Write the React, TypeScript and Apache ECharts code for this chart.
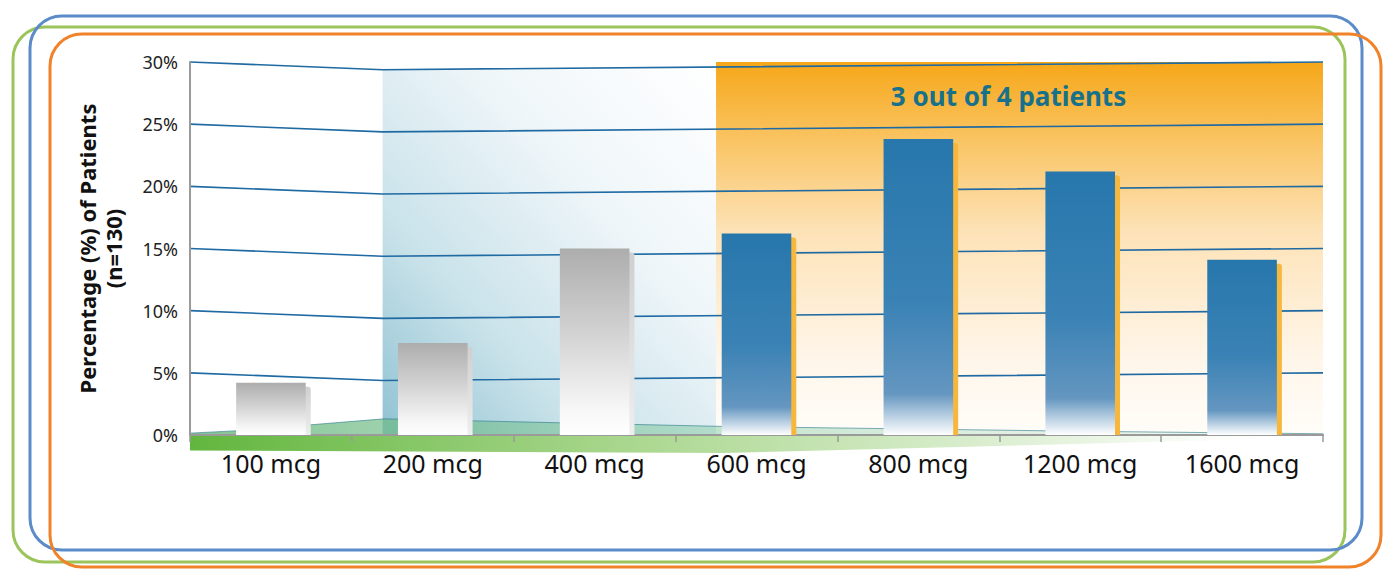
import React, { useEffect, useRef } from "react";
import * as echarts from "echarts";

const categories = ["100 mcg", "200 mcg", "400 mcg", "600 mcg", "800 mcg", "1200 mcg", "1600 mcg"];
const values = [4.2, 7.4, 15.0, 16.2, 23.8, 21.2, 14.1];
const inResponderGroup = [false, false, false, true, true, true, true];
const yTicks = { min: 0, max: 30, interval: 5 };
const gridValues = [5, 10, 15, 20, 25, 30];
const axisTitle = "Percentage (%) of Patients\n(n=130)";
const calloutText = "3 out of 4 patients";

const FONT = "'Noto Sans', 'Open Sans', sans-serif";

export default function App() {
  const ref = useRef<HTMLDivElement>(null);

  useEffect(() => {
    const chart = echarts.init(ref.current!, null, { renderer: "svg" });
    const LG = echarts.graphic.LinearGradient;

    const option: any = {
      animation: false,
      backgroundColor: "#ffffff",
      grid: { left: 190, right: 72, top: 62, bottom: 149, containLabel: false },
      xAxis: [
        {
          type: "category",
          data: categories,
          z: 4,
          axisLine: { lineStyle: { color: "#9a9a9a", width: 2 } },
          axisTick: { show: true, length: 7, lineStyle: { color: "#9a9a9a", width: 1.5 } },
          axisLabel: { fontSize: 25, color: "#111", fontFamily: FONT, margin: 15 },
        },
        { type: "value", min: 0, max: 7, show: false },
      ],
      yAxis: {
        type: "value",
        min: yTicks.min,
        max: yTicks.max,
        interval: yTicks.interval,
        z: 4,
        name: axisTitle,
        nameLocation: "middle",
        nameGap: 64,
        nameTextStyle: { fontSize: 22, fontWeight: "bold", color: "#111", fontFamily: FONT, lineHeight: 26 },
        axisLine: { show: true, lineStyle: { color: "#9a9a9a", width: 2 } },
        axisTick: { show: false },
        axisLabel: { formatter: "{value}%", fontSize: 18, color: "#222", fontFamily: FONT, margin: 12 },
        splitLine: { show: false },
      },
      series: [
        {
          type: "custom",
          xAxisIndex: 0,
          yAxisIndex: 0,
          z: 6,
          data: values.map((v, i) => [i, v]),
          encode: { x: 0, y: 1 },
          renderItem: (params: any, api: any) => {
            const idx = api.value(0);
            const val = api.value(1);
            const top = api.coord([idx, val]);
            const base = api.coord([idx, 0]);
            const band = api.size([1, 0])[0];
            const w = band * 0.43;
            const x = top[0] - w / 2;
            const h = base[1] - top[1];
            const hi = inResponderGroup[idx];
            const front = hi
              ? new LG(0, 0, 0, 1, [
                  { offset: 0, color: "#2777ac" },
                  { offset: 0.55, color: "#3a82b5" },
                  { offset: 0.86, color: "#6496c0" },
                  { offset: 1, color: "#ffffff" },
                ])
              : new LG(0, 0, 0, 1, [
                  { offset: 0, color: "#adadad" },
                  { offset: 0.45, color: "#d2d2d2" },
                  { offset: 0.85, color: "#f6f6f6" },
                  { offset: 1, color: "#ffffff" },
                ]);
            const side = hi
              ? "#f6b73c"
              : new LG(0, 0, 0, 1, [
                  { offset: 0, color: "#cfcfcf" },
                  { offset: 1, color: "#eeeeee" },
                ]);
            return {
              type: "group",
              children: [
                {
                  type: "rect",
                  shape: { x: x + w - 1, y: top[1] + 4, width: 6, height: Math.max(h - 4, 0), r: [0, 3, 0, 0] },
                  style: { fill: side },
                },
                {
                  type: "rect",
                  shape: { x, y: top[1], width: w, height: h },
                  style: { fill: front },
                },
              ],
            };
          },
        },
        {
          type: "line",
          xAxisIndex: 1,
          yAxisIndex: 0,
          z: 0,
          data: [[0, 0]],
          symbol: "none",
          lineStyle: { opacity: 0 },
          silent: true,
        },
      ],
    };
    chart.setOption(option);

    const P = (x: number, y: number) => chart.convertToPixel({ seriesIndex: 1 }, [x, y]) as number[];

    const dipX = 1.19;
    const dip = 0.62;
    const gridLines = gridValues.map((v) => ({
      type: "polyline",
      z: 3,
      silent: true,
      shape: { points: [P(0, v), P(dipX, v - dip), P(7, v)] },
      style: { stroke: "#1f6aa3", lineWidth: 1.6, fill: "none" },
    }));

    const blueTL = P(dipX, 30 - dip);
    const blueBR = P(3.25, 0);
    const orangeTL = P(3.25, 30 - dip * 0.55);
    const orangeTop = P(3.25, 30);
    const orangeBR = P(7, 0);

    const floorBelow = [P(0, 0), P(7, 0), P(7, -0.2), P(3.3, -1.45), P(0, -1.25)];
    const floorTop = [P(0, 0), P(0, 0.15), P(0.3, 0.35), P(1.2, 1.3), P(3.25, 0.7), P(5.5, 0.3), P(7, 0.1), P(7, 0)];

    chart.setOption({
      graphic: [
        {
          type: "rect",
          z: 0,
          silent: true,
          shape: { x: blueTL[0], y: blueTL[1], width: blueBR[0] - blueTL[0], height: blueBR[1] - blueTL[1] },
          style: {
            fill: new LG(0, 1, 1, 0, [
              { offset: 0, color: "#8fc2d2" },
              { offset: 0.3, color: "#c9e2ea" },
              { offset: 0.65, color: "#eff6f9" },
              { offset: 1, color: "#ffffff" },
            ]),
          },
        },
        {
          type: "rect",
          z: 0,
          silent: true,
          shape: {
            x: orangeTL[0],
            y: Math.min(orangeTL[1], orangeTop[1]),
            width: orangeBR[0] - orangeTL[0],
            height: orangeBR[1] - Math.min(orangeTL[1], orangeTop[1]),
          },
          style: {
            fill: new LG(0, 0, 0, 1, [
              { offset: 0, color: "#f6a719" },
              { offset: 0.18, color: "#f9c058" },
              { offset: 0.45, color: "#fde2b6" },
              { offset: 0.8, color: "#fff6ea" },
              { offset: 1, color: "#fffdf9" },
            ]),
          },
        },
        {
          type: "text",
          z: 5,
          silent: true,
          x: (orangeTL[0] + orangeBR[0]) / 2 - 11,
          y: P(0, 27.3)[1],
          style: {
            text: calloutText,
            fontSize: 26,
            fontWeight: "bold",
            fill: "#17718a",
            fontFamily: FONT,
            align: "center",
            verticalAlign: "middle",
          },
        },
        ...gridLines,
        {
          type: "polygon",
          z: 0,
          silent: true,
          shape: { points: floorBelow },
          style: {
            fill: new LG(0, 0, 1, 0, [
              { offset: 0, color: "#62b63e" },
              { offset: 0.4, color: "#acd891" },
              { offset: 0.8, color: "#eaf5e4" },
              { offset: 1, color: "rgba(255,255,255,0)" },
            ]),
          },
        },
        {
          type: "polygon",
          z: 1,
          silent: true,
          shape: { points: floorTop },
          style: {
            fill: new LG(0, 0, 1, 0, [
              { offset: 0, color: "rgba(90,175,110,0.75)" },
              { offset: 0.45, color: "rgba(130,200,160,0.5)" },
              { offset: 1, color: "rgba(200,230,210,0.2)" },
            ]),
            stroke: "rgba(40,120,140,0.6)",
            lineWidth: 1,
          },
        },
        {
          type: "rect",
          z: 10,
          silent: true,
          shape: { x: 13, y: 27, width: 1332, height: 535, r: 32 },
          style: { fill: "none", stroke: "#9bc45a", lineWidth: 3 },
        },
        {
          type: "rect",
          z: 10,
          silent: true,
          shape: { x: 30, y: 16, width: 1332, height: 534, r: 32 },
          style: { fill: "none", stroke: "#5b8bc9", lineWidth: 3 },
        },
        {
          type: "rect",
          z: 10,
          silent: true,
          shape: { x: 50, y: 34, width: 1331, height: 533, r: 32 },
          style: { fill: "none", stroke: "#f0832a", lineWidth: 3 },
        },
      ],
    });

    return () => chart.dispose();
  }, []);

  return (
    <div
      ref={ref}
      style={{ position: "fixed", left: 0, top: 0, width: 1395, height: 584, background: "#fff" }}
    />
  );
}
